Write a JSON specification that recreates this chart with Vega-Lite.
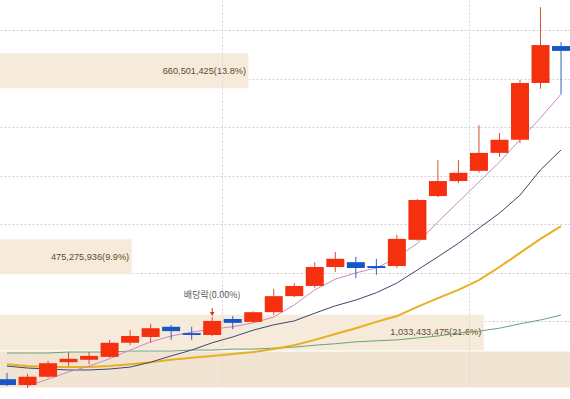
{
  "$schema": "https://vega.github.io/schema/vega-lite/v6.json",
  "width": 570,
  "height": 388,
  "padding": 0,
  "autosize": {"type": "none"},
  "background": "#ececec",
  "view": {"fill": "#ffffff", "stroke": null},
  "datasets": {
    "candles": [
      {"i":0,"open":981,"high":994,"low":967,"close":969,"ma5":null,"ma20":1008,"ma60":1012,"ma120":1035},
      {"i":1,"open":969,"high":992,"low":963,"close":986,"ma5":967,"ma20":1004,"ma60":1008,"ma120":1035},
      {"i":2,"open":986,"high":1019,"low":984,"close":1014,"ma5":981,"ma20":1002,"ma60":1006,"ma120":1035},
      {"i":3,"open":1016,"high":1037,"low":1008,"close":1023,"ma5":996,"ma20":1000,"ma60":1006,"ma120":1037},
      {"i":4,"open":1021,"high":1037,"low":1012,"close":1029,"ma5":1008,"ma20":1000,"ma60":1006,"ma120":1037},
      {"i":5,"open":1027,"high":1062,"low":1025,"close":1056,"ma5":1023,"ma20":1002,"ma60":1008,"ma120":1037},
      {"i":6,"open":1056,"high":1082,"low":1051,"close":1070,"ma5":1041,"ma20":1006,"ma60":1012,"ma120":1039},
      {"i":7,"open":1068,"high":1095,"low":1056,"close":1086,"ma5":1058,"ma20":1016,"ma60":1016,"ma120":1039},
      {"i":8,"open":1089,"high":1093,"low":1062,"close":1080,"ma5":1070,"ma20":1029,"ma60":1021,"ma120":1039},
      {"i":9,"open":1076,"high":1089,"low":1062,"close":1072,"ma5":1078,"ma20":1041,"ma60":1025,"ma120":1041},
      {"i":10,"open":1072,"high":1109,"low":1070,"close":1101,"ma5":1084,"ma20":1056,"ma60":1029,"ma120":1041},
      {"i":11,"open":1105,"high":1111,"low":1084,"close":1097,"ma5":1089,"ma20":1068,"ma60":1033,"ma120":1043},
      {"i":12,"open":1099,"high":1121,"low":1097,"close":1119,"ma5":1097,"ma20":1082,"ma60":1037,"ma120":1043},
      {"i":13,"open":1119,"high":1167,"low":1113,"close":1152,"ma5":1109,"ma20":1093,"ma60":1043,"ma120":1045},
      {"i":14,"open":1152,"high":1179,"low":1150,"close":1173,"ma5":1134,"ma20":1101,"ma60":1051,"ma120":1047},
      {"i":15,"open":1173,"high":1222,"low":1169,"close":1212,"ma5":1165,"ma20":1117,"ma60":1062,"ma120":1051},
      {"i":16,"open":1212,"high":1243,"low":1202,"close":1229,"ma5":1187,"ma20":1132,"ma60":1074,"ma120":1054},
      {"i":17,"open":1222,"high":1233,"low":1189,"close":1210,"ma5":1200,"ma20":1144,"ma60":1086,"ma120":1058},
      {"i":18,"open":1214,"high":1229,"low":1196,"close":1210,"ma5":1210,"ma20":1159,"ma60":1099,"ma120":1060},
      {"i":19,"open":1214,"high":1278,"low":1210,"close":1270,"ma5":1231,"ma20":1179,"ma60":1111,"ma120":1062},
      {"i":20,"open":1268,"high":1352,"low":1266,"close":1350,"ma5":1261,"ma20":1206,"ma60":1130,"ma120":1066},
      {"i":21,"open":1358,"high":1432,"low":1356,"close":1389,"ma5":1305,"ma20":1233,"ma60":1148,"ma120":1070},
      {"i":22,"open":1389,"high":1432,"low":1385,"close":1406,"ma5":1346,"ma20":1261,"ma60":1165,"ma120":1076},
      {"i":23,"open":1410,"high":1504,"low":1406,"close":1447,"ma5":1387,"ma20":1292,"ma60":1185,"ma120":1080},
      {"i":24,"open":1447,"high":1488,"low":1439,"close":1474,"ma5":1428,"ma20":1323,"ma60":1212,"ma120":1086},
      {"i":25,"open":1474,"high":1597,"low":1467,"close":1591,"ma5":1474,"ma20":1360,"ma60":1241,"ma120":1095},
      {"i":26,"open":1591,"high":1747,"low":1579,"close":1669,"ma5":1519,"ma20":1412,"ma60":1270,"ma120":1103},
      {"i":27,"open":1667,"high":1675,"low":1568,"close":1657,"ma5":1568,"ma20":1453,"ma60":1296,"ma120":1113}
    ],
    "bands": [
      {"lo":1579,"hi":1653,"vol":660501425,"label":"660,501,425(13.8%)"},
      {"lo":1196,"hi":1270,"vol":475275936,"label":"475,275,936(9.9%)"},
      {"lo":1039,"hi":1115,"vol":1033433475,"label":"1,033,433,475(21.6%)"},
      {"lo":963,"hi":1039,"vol":1300000000,"label":null}
    ],
    "events": [
      {"i":10,"price":1109,"text":"배당락(0.00%)"}
    ]
  },
  "resolve": {"scale": {"x": "independent"}},
  "layer": [
    {
      "data": {"name": "bands"},
      "encoding": {
        "x": {"field": "vol", "type": "quantitative", "scale": {"domain": [265800000, 1169300000], "zero": false, "nice": false, "padding": 0}, "axis": null},
        "y": {"field": "hi", "type": "quantitative", "scale": {"domain": [962.9, 1761.8], "zero": false, "nice": false},
              "axis": {"values": [1000,1100,1200,1300,1400,1500,1600,1700], "grid": true, "gridDash": [2,2], "gridColor": "#cfcfcf", "gridWidth": 1, "labels": false, "ticks": false, "domain": false, "title": null}}
      },
      "layer": [
        {
          "mark": {"type": "bar", "clip": true, "stroke": "#ffffff", "strokeWidth": 1},
          "encoding": {
            "x2": {"datum": 0},
            "y2": {"field": "lo"},
            "color": {"condition": {"test": "datum.vol > 1100000000", "value": "#f2e4d2"}, "value": "#f6eadb"}
          }
        },
        {
          "transform": [{"filter": "isValid(datum.label)"}],
          "mark": {"type": "text", "align": "right", "baseline": "middle", "dx": -3, "dy": 18, "font": "Liberation Sans", "fontSize": 9.2, "color": "#5e4c2c", "clip": true},
          "encoding": {"text": {"field": "label"}}
        }
      ]
    },
    {
      "data": {"name": "candles"},
      "encoding": {
        "x": {"field": "i", "type": "quantitative", "scale": {"domain": [-0.341, 27.437], "zero": false, "nice": false, "padding": 0},
              "axis": {"values": [10.5, 22.5], "grid": true, "gridDash": [2,2], "gridColor": "#d6d6d6", "labels": false, "ticks": false, "domain": false, "title": null, "zindex": 1}}
      },
      "layer": [
        {
          "mark": {"type": "line", "color": "#6fa07a", "strokeWidth": 1, "clip": true},
          "encoding": {"y": {"field": "ma120", "type": "quantitative"}}
        },
        {
          "mark": {"type": "line", "color": "#e6b021", "strokeWidth": 2, "clip": true},
          "encoding": {"y": {"field": "ma60", "type": "quantitative"}}
        },
        {
          "mark": {"type": "line", "color": "#3c4670", "strokeWidth": 1, "clip": true},
          "encoding": {"y": {"field": "ma20", "type": "quantitative"}}
        },
        {
          "mark": {"type": "line", "color": "#c98ac0", "strokeWidth": 1, "clip": true},
          "encoding": {"y": {"field": "ma5", "type": "quantitative"}}
        },
        {
          "mark": {"type": "rule", "strokeWidth": 1, "clip": true},
          "encoding": {
            "y": {"field": "low", "type": "quantitative"},
            "y2": {"field": "high"},
            "color": {"condition": {"test": "datum.close >= datum.open", "value": "#d9502f"}, "value": "#2f62c2"}
          }
        },
        {
          "mark": {"type": "bar", "size": 18, "clip": true},
          "encoding": {
            "y": {"field": "open", "type": "quantitative"},
            "y2": {"field": "close"},
            "color": {"condition": {"test": "datum.close >= datum.open", "value": "#f5300f"}, "value": "#1557c8"}
          }
        },
        {
          "data": {"name": "events"},
          "mark": {"type": "rule", "color": "#e0301a", "strokeWidth": 1, "yOffset": -9, "y2Offset": -4},
          "encoding": {"y": {"field": "price", "type": "quantitative"}, "y2": {"field": "price"}}
        },
        {
          "data": {"name": "events"},
          "mark": {"type": "point", "shape": "triangle-down", "filled": true, "color": "#e0301a", "opacity": 1, "size": 22, "yOffset": -3},
          "encoding": {"y": {"field": "price", "type": "quantitative"}}
        },
        {
          "data": {"name": "events"},
          "mark": {"type": "text", "baseline": "middle", "align": "center", "dy": -22, "font": "Noto Sans CJK KR", "fontSize": 9, "color": "#555555"},
          "encoding": {"y": {"field": "price", "type": "quantitative"}, "text": {"field": "text"}}
        }
      ]
    }
  ]
}
